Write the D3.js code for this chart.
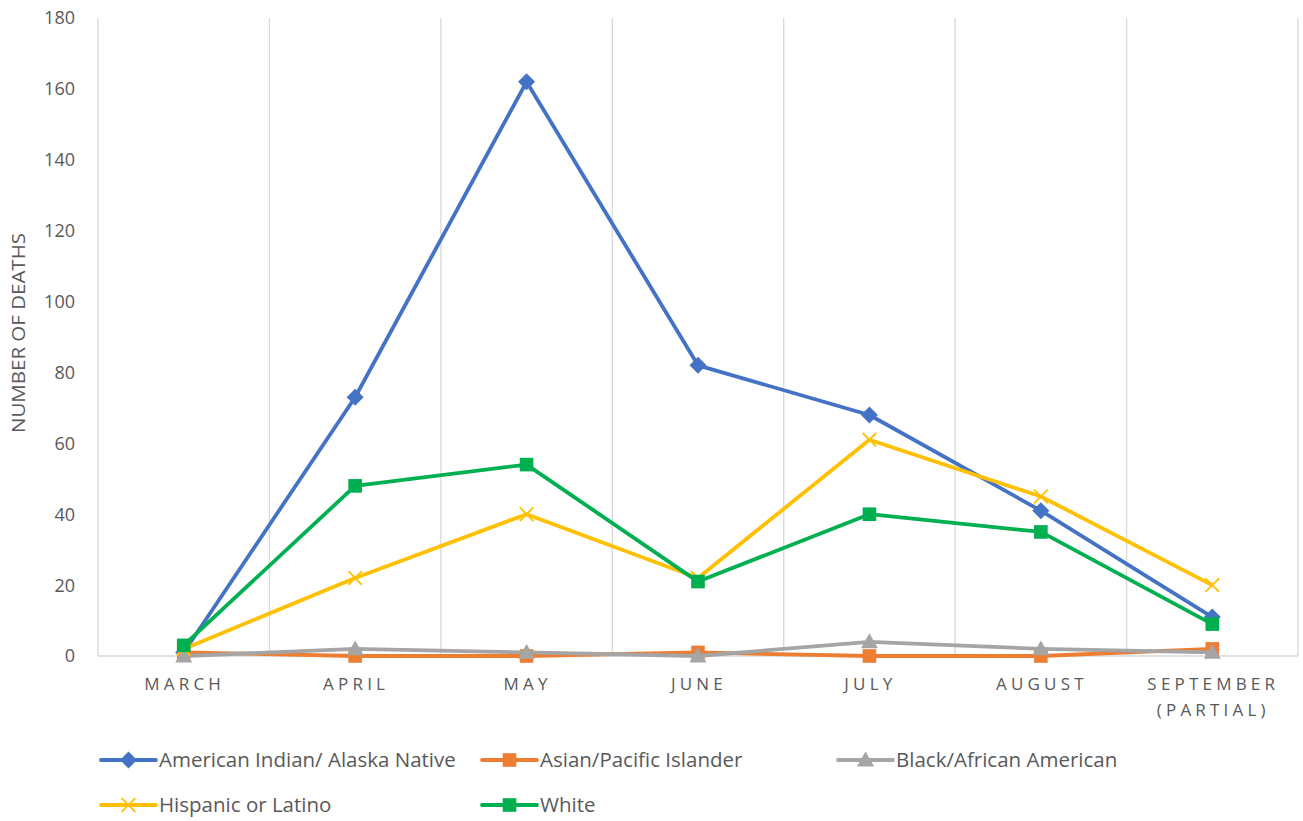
<!DOCTYPE html>
<html>
<head>
<meta charset="utf-8">
<script src="https://cdn.jsdelivr.net/npm/d3@7"></script>
<style>
  body { margin: 0; background: #fff; }
  text { font-family: "Open Sans", "Noto Sans", sans-serif; fill: #595959; }
</style>
</head>
<body>
<div id="chart"></div>
<script>
// categories and series values
const months = ["MARCH", "APRIL", "MAY", "JUNE", "JULY", "AUGUST", "SEPTEMBER (PARTIAL)"];
const americanIndian = [1, 73, 162, 82, 68, 41, 11];
const asianPacific = [1, 0, 0, 1, 0, 0, 2];
const blackAfrican = [0, 2, 1, 0, 4, 2, 1];
const hispanic = [2, 22, 40, 22, 61, 45, 20];
const white = [3, 48, 54, 21, 40, 35, 9];
const yTicks = [0, 20, 40, 60, 80, 100, 120, 140, 160, 180];

const series = [
  { name: "American Indian/ Alaska Native", values: americanIndian, color: "#4472C4", marker: "diamond" },
  { name: "Asian/Pacific Islander", values: asianPacific, color: "#ED7D31", marker: "square" },
  { name: "Black/African American", values: blackAfrican, color: "#A5A5A5", marker: "triangle" },
  { name: "Hispanic or Latino", values: hispanic, color: "#FFC000", marker: "x" },
  { name: "White", values: white, color: "#00B050", marker: "square" },
];

const W = 1303, H = 821;
const margin = { top: 18, right: 5, bottom: 165, left: 98 };
const innerW = W - margin.left - margin.right;
const innerH = H - margin.top - margin.bottom;

const svg = d3.select("#chart").append("svg").attr("width", W).attr("height", H);
const g = svg.append("g").attr("transform", `translate(${margin.left}, ${margin.top})`);

const x = d3.scaleBand().domain(months).range([0, innerW]);
const y = d3.scaleLinear().domain([0, 180]).range([innerH, 0]);
const cx = (i) => x(months[i]) + x.bandwidth() / 2;

// vertical gridlines at category boundaries
g.selectAll(".vgrid")
  .data(months)
  .enter()
  .append("line")
  .attr("x1", (d) => x(d) + x.bandwidth())
  .attr("x2", (d) => x(d) + x.bandwidth())
  .attr("y1", 0)
  .attr("y2", innerH)
  .attr("stroke", "#d9d9d9")
  .attr("stroke-width", 1.3);

// axes lines
g.append("line").attr("x1", 0).attr("x2", 0).attr("y1", 0).attr("y2", innerH)
  .attr("stroke", "#d9d9d9").attr("stroke-width", 1.3);
g.append("line").attr("x1", 0).attr("x2", innerW).attr("y1", innerH).attr("y2", innerH)
  .attr("stroke", "#d9d9d9").attr("stroke-width", 1.3);

// y tick labels
g.selectAll(".ytick")
  .data(yTicks)
  .enter()
  .append("text")
  .attr("x", -23)
  .attr("y", (d) => y(d))
  .attr("dy", "0.36em")
  .attr("text-anchor", "end")
  .style("font-size", "18px")
  .text((d) => d);

// y axis title
svg.append("text")
  .attr("transform", `translate(25, ${margin.top + innerH / 2 - 4}) rotate(-90)`)
  .attr("text-anchor", "middle")
  .attr("textLength", 200)
  .attr("lengthAdjust", "spacingAndGlyphs")
  .style("font-size", "17.5px")
  .text("NUMBER OF DEATHS");

// x labels
const xl = g.selectAll(".xlab")
  .data(months)
  .enter()
  .append("text")
  .attr("text-anchor", "middle")
  .style("font-size", "17px")
  .style("letter-spacing", "4.2px");
xl.each(function (d, i) {
  const parts = d === "SEPTEMBER (PARTIAL)" ? ["SEPTEMBER", "(PARTIAL)"] : [d];
  parts.forEach((p, k) => {
    d3.select(this).append("tspan")
      .attr("x", cx(i) + 1)
      .attr("y", innerH + 34 + k * 26)
      .text(p);
  });
});

// markers
function drawMarker(sel, type, color, s) {
  if (type === "diamond") {
    sel.append("path").attr("d", `M0,${-s}L${s},0L0,${s}L${-s},0Z`).attr("fill", color);
  } else if (type === "square") {
    sel.append("rect").attr("x", -s * 0.8).attr("y", -s * 0.8).attr("width", s * 1.6).attr("height", s * 1.6).attr("fill", color);
  } else if (type === "triangle") {
    sel.append("path").attr("d", `M0,${-s}L${s},${s * 0.75}L${-s},${s * 0.75}Z`).attr("fill", color);
  } else if (type === "x") {
    sel.append("path").attr("d", `M${-s * 0.8},${-s * 0.8}L${s * 0.8},${s * 0.8}M${-s * 0.8},${s * 0.8}L${s * 0.8},${-s * 0.8}`)
      .attr("stroke", color).attr("stroke-width", 1.8).attr("fill", "none");
  }
}

const line = d3.line().x((d, i) => cx(i)).y((d) => y(d));

series.forEach((s) => {
  const sg = g.append("g");
  sg.append("path")
    .attr("d", line(s.values))
    .attr("fill", "none")
    .attr("stroke", s.color)
    .attr("stroke-width", 3.8)
    .attr("stroke-linejoin", "round");
  s.values.forEach((v, i) => {
    const m = sg.append("g").attr("transform", `translate(${cx(i)}, ${y(v)})`);
    drawMarker(m, s.marker, s.color, 8.5);
  });
});

// legend
const legendPos = [
  [101, 760], [482, 760], [838, 760],
  [101, 805], [482, 805],
];
series.forEach((s, i) => {
  const [lx, ly] = legendPos[i];
  const lg = svg.append("g").attr("transform", `translate(${lx}, ${ly})`);
  lg.append("line").attr("x1", 0).attr("x2", 55).attr("y1", 0).attr("y2", 0)
    .attr("stroke", s.color).attr("stroke-width", 3.8).attr("stroke-linecap", "round");
  const m = lg.append("g").attr("transform", "translate(27.5, 0)");
  drawMarker(m, s.marker, s.color, 8.5);
  lg.append("text").attr("x", 58).attr("y", 0).attr("dy", "0.36em")
    .style("font-size", "20.5px").text(s.name);
});
</script>
</body>
</html>
